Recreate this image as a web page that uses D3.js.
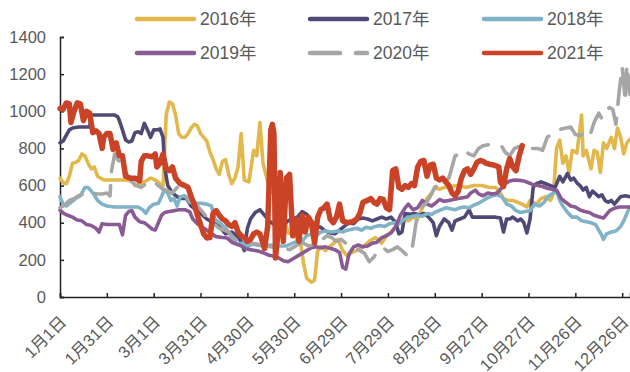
<!DOCTYPE html>
<html>
<head>
<meta charset="utf-8">
<script src="https://cdn.jsdelivr.net/npm/d3@7"></script>
<style>
  html, body { margin: 0; padding: 0; background: #fff; }
  svg { display: block; }
  text { font-family: "Liberation Sans", Arial, "Noto Sans CJK SC", sans-serif; fill: #595959; }
</style>
</head>
<body>
<svg id="chart" width="630" height="372"></svg>
<script>
// Day of year (0 = 1月1日) and value pairs for each year
const s2016 = [[0,640],[2,615],[4,610],[6,650],[8,720],[10,725],[12,735],[14,770],[16,760],[18,720],[20,690],[22,700],[24,650],[26,640],[28,630],[35,630],[42,630],[46,625],[48,600],[52,610],[55,625],[58,640],[61,630],[64,610],[66,600],[68,980],[70,1050],[72,1040],[74,980],[76,880],[78,860],[80,860],[82,880],[84,910],[86,930],[88,920],[90,880],[92,860],[94,840],[96,780],[98,740],[100,690],[102,660],[104,730],[106,740],[108,660],[110,610],[112,640],[114,700],[116,880],[118,630],[121,620],[124,790],[126,760],[128,940],[130,720],[133,620],[136,560],[139,540],[142,530],[144,420],[146,345],[149,340],[152,310],[154,290],[156,180],[158,100],[161,80],[163,90],[165,250],[167,270],[170,250],[174,280],[178,310],[181,250],[184,220],[187,240],[190,250],[194,270],[198,300],[202,320],[206,290],[209,330],[212,350],[215,380],[218,400],[220,420],[223,410],[226,430],[229,420],[232,480],[235,530],[238,560],[240,590],[243,580],[246,590],[250,595],[255,600],[260,590],[265,600],[270,600],[275,590],[279,590],[282,560],[284,530],[287,520],[290,520],[293,510],[296,500],[299,485],[301,520],[303,510],[305,500],[308,530],[311,540],[314,520],[316,560],[318,800],[320,845],[322,720],[324,760],[326,670],[328,790],[331,775],[334,980],[335,760],[337,790],[340,690],[342,790],[344,780],[346,670],[348,830],[350,800],[353,860],[355,800],[357,910],[359,860],[361,770],[363,830],[365,850]];

const s2017 = [[0,830],[2,840],[4,870],[6,900],[8,910],[12,915],[16,915],[19,915],[20,980],[25,980],[30,980],[35,980],[37,970],[38,950],[40,900],[42,845],[44,835],[46,840],[48,885],[50,890],[52,880],[54,935],[56,900],[58,860],[60,900],[62,900],[64,905],[66,860],[67,700],[69,600],[72,560],[75,540],[78,530],[81,530],[84,490],[87,470],[90,450],[94,420],[98,400],[102,380],[106,340],[110,350],[113,330],[116,300],[118,250],[120,370],[122,420],[125,455],[128,470],[131,440],[134,410],[137,390],[140,370],[143,390],[146,410],[149,420],[152,430],[155,460],[158,445],[161,410],[164,380],[167,375],[170,355],[173,345],[176,340],[179,360],[182,380],[185,400],[188,395],[191,420],[194,425],[197,420],[200,410],[203,420],[206,430],[209,420],[212,430],[215,400],[217,340],[219,350],[221,450],[224,445],[227,450],[230,440],[233,450],[236,430],[239,400],[241,330],[243,380],[246,420],[249,400],[251,360],[253,410],[256,420],[259,430],[262,470],[264,430],[267,430],[271,430],[275,430],[279,430],[282,425],[284,350],[286,420],[288,420],[290,430],[293,410],[295,420],[297,400],[299,345],[301,420],[303,590],[305,610],[308,620],[311,610],[314,600],[317,590],[320,650],[322,620],[325,665],[327,630],[329,640],[331,615],[333,600],[335,576],[337,590],[339,540],[341,570],[343,555],[345,540],[347,550],[349,520],[351,510],[353,520],[355,500],[357,520],[359,540],[362,545],[365,540]];

const s2018 = [[0,540],[2,500],[4,490],[7,510],[10,530],[13,545],[16,590],[18,590],[20,570],[22,550],[24,520],[27,500],[30,490],[35,485],[40,485],[45,485],[50,485],[53,470],[55,450],[57,480],[60,500],[63,505],[65,540],[67,580],[69,560],[71,520],[73,530],[75,490],[77,540],[80,545],[83,510],[86,505],[90,505],[94,500],[97,490],[99,420],[102,400],[105,380],[108,350],[111,300],[114,285],[117,290],[120,270],[123,285],[126,280],[130,275],[135,280],[140,275],[145,275],[149,290],[152,300],[155,300],[158,330],[161,340],[164,330],[167,350],[170,355],[174,350],[178,355],[181,350],[184,360],[187,365],[190,370],[193,360],[196,375],[199,370],[202,380],[205,385],[208,380],[211,395],[214,400],[217,395],[220,415],[223,430],[226,435],[229,440],[232,435],[235,450],[238,445],[241,460],[244,470],[247,480],[250,475],[253,470],[256,480],[259,485],[262,480],[265,495],[268,505],[271,520],[274,535],[277,545],[280,550],[283,540],[286,500],[289,490],[292,465],[295,455],[298,460],[301,465],[304,500],[307,490],[310,510],[313,545],[316,560],[318,570],[320,520],[322,490],[325,455],[328,430],[331,430],[334,410],[337,405],[340,400],[343,390],[345,360],[347,330],[348,310],[350,340],[353,350],[356,355],[359,380],[361,410],[363,450],[365,485]];

const s2019 = [[0,468],[2,452],[5,440],[8,430],[11,415],[14,410],[17,390],[20,385],[23,370],[25,350],[27,395],[30,390],[34,390],[38,390],[40,335],[42,440],[44,460],[46,465],[48,430],[51,405],[54,400],[57,380],[59,365],[61,360],[63,400],[65,440],[67,455],[70,460],[73,465],[76,470],[80,470],[83,460],[85,420],[88,395],[91,375],[94,360],[97,340],[100,325],[104,320],[107,318],[110,295],[113,285],[116,275],[119,260],[122,255],[125,250],[128,245],[131,235],[134,225],[137,220],[140,210],[143,195],[146,190],[149,205],[152,220],[155,235],[158,250],[161,265],[164,270],[167,265],[170,270],[173,262],[176,255],[179,240],[181,160],[183,150],[185,230],[188,270],[191,280],[194,270],[197,275],[200,290],[203,295],[206,320],[209,330],[212,345],[215,380],[218,440],[221,480],[223,500],[226,470],[229,480],[232,520],[235,500],[238,490],[241,510],[243,525],[246,515],[249,520],[252,525],[255,530],[258,535],[261,540],[263,560],[266,575],[268,555],[271,545],[274,560],[277,555],[280,560],[282,580],[285,610],[288,625],[291,630],[294,628],[297,625],[300,615],[303,605],[306,600],[309,595],[312,585],[315,580],[318,575],[321,530],[324,510],[327,490],[330,485],[333,468],[336,460],[339,455],[342,440],[345,432],[348,425],[350,445],[352,465],[355,478],[358,485],[362,485],[365,485]];

const s2020 = [[0,480],[3,495],[6,520],[9,530],[12,545],[15,555],[18,565],[21,560],[24,555],[27,555],[30,560],[32,545],[33,680],[35,770],[37,740],[39,720],[41,690],[43,660],[46,620],[49,600],[52,590],[55,610],[58,625],[61,615],[63,600],[66,580],[69,570],[72,560],[75,590],[78,560],[81,540],[84,510],[87,500],[90,470],[93,440],[96,420],[99,390],[102,370],[105,360],[108,350],[111,320],[114,300],[117,310],[120,300],[123,290],[126,285],[129,280],[132,275],[135,270],[138,265],[141,262],[144,260],[147,255],[150,270],[153,285],[156,290],[159,275],[162,280],[165,295],[168,310],[171,330],[174,320],[177,300],[180,310],[183,290],[186,275],[189,265],[192,250],[195,235],[198,190],[201,215],[204,255],[207,265],[210,245],[213,255],[216,270],[219,250],[222,225],[225,230],[228,400],[231,480],[234,500],[237,540],[240,590],[243,610],[246,620],[249,640],[251,700],[253,760],[256,770],[259,790],[262,770],[265,760],[268,800],[271,815],[274,820],[277,820],[280,815],[283,810],[285,780],[288,760],[291,800],[294,810],[297,800],[300,795],[303,800],[306,800],[309,790],[312,860],[315,880],[318,890],[321,905],[324,910],[327,915],[330,875],[333,870],[336,880],[339,860],[342,940],[345,990],[347,960],[350,1010],[352,1020],[354,1010],[356,930],[358,1100],[360,1240],[361,1150],[362,1050],[363,1250],[365,1090]];

const s2021 = [[0,1015],[2,1010],[4,1045],[6,1040],[7,940],[9,1000],[11,1045],[13,1040],[15,950],[17,1000],[19,990],[21,885],[23,895],[25,880],[27,800],[28,860],[30,880],[32,880],[34,795],[36,830],[38,760],[40,760],[42,650],[45,640],[48,640],[51,625],[52,730],[54,760],[56,760],[59,755],[61,770],[62,700],[64,720],[66,770],[68,690],[70,680],[72,700],[74,640],[77,610],[80,600],[82,590],[84,540],[86,500],[88,440],[90,390],[92,340],[94,318],[96,320],[98,450],[100,465],[102,440],[104,420],[106,410],[108,390],[110,380],[112,400],[114,350],[116,330],[118,320],[120,300],[122,310],[124,340],[126,350],[128,340],[130,290],[131,260],[133,380],[135,900],[136,930],[137,880],[138,210],[140,380],[141,670],[143,300],[145,640],[147,660],[149,330],[151,420],[153,300],[155,440],[157,350],[159,430],[161,400],[163,290],[165,430],[167,470],[169,480],[171,500],[173,420],[175,400],[177,430],[179,500],[181,410],[184,400],[187,405],[190,420],[192,450],[194,510],[197,520],[199,530],[201,510],[203,500],[205,530],[207,525],[209,480],[211,470],[213,680],[215,690],[217,590],[219,580],[221,600],[223,590],[225,610],[227,600],[229,700],[231,730],[233,735],[235,650],[237,710],[239,715],[241,640],[243,630],[245,640],[247,620],[249,600],[251,560],[253,545],[255,570],[257,640],[259,680],[261,690],[263,660],[265,690],[267,725],[269,735],[271,730],[273,720],[275,715],[278,710],[281,700],[282,620],[284,595],[286,690],[288,745],[290,700],[292,680],[294,760],[296,815]];

const seriesNames = ["2016年", "2017年", "2018年", "2019年", "2020年", "2021年"];
const seriesData = [s2016, s2017, s2018, s2019, s2020, s2021];

const xTickDays = [0, 30, 60, 90, 120, 150, 180, 210, 240, 270, 300, 330, 360];
const xTickLabels = ["1月1日", "1月31日", "3月1日", "3月31日", "4月30日", "5月30日", "6月29日",
                     "7月29日", "8月28日", "9月27日", "10月27日", "11月26日", "12月26日"];
const yTicks = [0, 200, 400, 600, 800, 1000, 1200, 1400];

// Styling per year
const colors = ["#E2B84C", "#4F4A75", "#80B3C8", "#8A5A95", "#A6A6A6", "#CB4326"];
const widths = [3.6, 3.6, 3.6, 3.6, 3.6, 5.5];
const dashes = [null, null, null, null, "26,14", null];

const svg = d3.select("#chart");
const plot = { left: 60, right: 630, top: 37, bottom: 297 };

const x = d3.scaleLinear().domain([0, 365]).range([plot.left, plot.right]);
const y = d3.scaleLinear().domain([0, 1400]).range([plot.bottom, plot.top]);

// Y axis
const yAxis = d3.axisLeft(y).tickValues(yTicks).tickSize(-4).tickPadding(14).tickFormat(d3.format("d"));
const gy = svg.append("g").attr("transform", `translate(${plot.left},0)`).call(yAxis);
gy.select(".domain").attr("stroke", "#222").attr("stroke-width", 1.5);
gy.selectAll(".tick line").attr("stroke", "#222").attr("stroke-width", 1.5);
gy.selectAll(".tick text").attr("font-size", 16.5).attr("fill", "#595959")
  .attr("font-family", "'Liberation Sans', Arial, sans-serif");

// X axis
const xAxis = d3.axisBottom(x).tickValues(xTickDays).tickSize(-4)
  .tickFormat((d, i) => xTickLabels[i]);
const gx = svg.append("g").attr("transform", `translate(0,${plot.bottom})`).call(xAxis);
gx.select(".domain").attr("stroke", "#222").attr("stroke-width", 1.5);
gx.selectAll(".tick line").attr("stroke", "#222").attr("stroke-width", 1.5);
gx.selectAll(".tick text")
  .attr("font-size", 16.5).attr("fill", "#595959")
  .attr("font-family", "'Liberation Sans', Arial, 'Noto Sans CJK SC', sans-serif")
  .attr("text-anchor", "end")
  .attr("y", 0).attr("dy", 0)
  .attr("transform", "translate(7,26) rotate(-45)");

// Series lines
const line = d3.line().x(d => x(d[0])).y(d => y(d[1])).curve(d3.curveLinear);
const gLines = svg.append("g");
seriesData.forEach((data, i) => {
  gLines.append("path")
    .datum(data)
    .attr("d", line)
    .attr("fill", "none")
    .attr("stroke", colors[i])
    .attr("stroke-width", widths[i])
    .attr("stroke-linejoin", "round")
    .attr("stroke-linecap", "round")
    .attr("stroke-dasharray", dashes[i]);
});

// Legend: two rows of three
const legendCols = [137, 310, 484];
const legendRows = [19, 53];
const lg = svg.append("g");
seriesNames.forEach((name, i) => {
  const cx = legendCols[i % 3];
  const cy = legendRows[Math.floor(i / 3)];
  lg.append("line")
    .attr("x1", cx).attr("x2", cx + 57).attr("y1", cy).attr("y2", cy)
    .attr("stroke", colors[i]).attr("stroke-width", 4.5)
    .attr("stroke-linecap", "round")
    .attr("stroke-dasharray", dashes[i] ? "30,16" : null);
  lg.append("text")
    .attr("x", cx + 63).attr("y", cy).attr("dy", "0.35em")
    .attr("font-size", 17.5).attr("fill", "#595959")
    .text(name);
});
</script>
</body>
</html>
